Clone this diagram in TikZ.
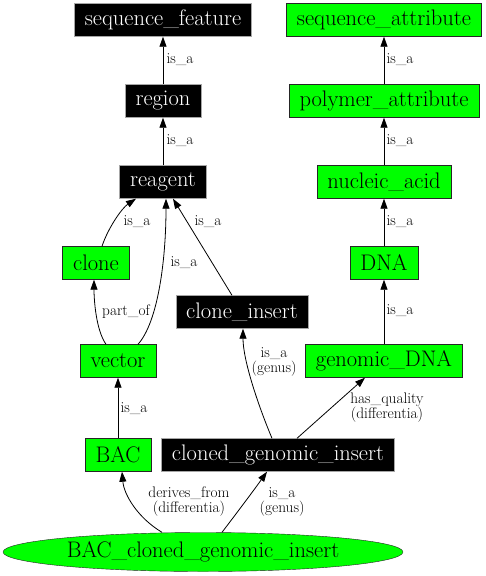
\documentclass[tikz,border=0pt]{standalone}
\usetikzlibrary{arrows.meta,shapes.geometric}
\definecolor{gvgreen}{RGB}{0,255,0}
\begin{document}
\begin{tikzpicture}[x=1pt,y=-1pt,
  term/.style={draw=gray!70,fill=black,text=white,inner xsep=10.5pt,minimum height=33pt,font=\fontsize{22.5}{25}\selectfont},
  attr/.style={draw=black!85,fill=gvgreen,text=black,inner xsep=10.5pt,minimum height=33pt,font=\fontsize{22.5}{25}\selectfont},
  lbl/.style={align=center,inner sep=0pt,font=\fontsize{15.3}{15}\selectfont},
  rel/.style={draw,line width=0.8pt,-{Triangle[length=10pt,width=7pt]}}]
\useasboundingbox (0,0) rectangle (486,576);

\node[term] (sf) at (163,20) {sequence\_feature};
\node[attr] (sa) at (384,20) {sequence\_attribute};
\node[term] (reg) at (163,101) {region};
\node[attr] (pa) at (384,101) {polymer\_attribute};
\node[term] (rea) at (163,182) {reagent};
\node[attr] (na) at (384,182) {nucleic\_acid};
\node[attr] (clo) at (96,263) {clone};
\node[attr] (dna) at (384,263) {DNA};
\node[term] (ci) at (242,312) {clone\_insert};
\node[attr] (vec) at (118,361) {vector};
\node[attr] (gdna) at (384,361) {genomic\_DNA};
\node[attr] (bac) at (118,455) {BAC};
\node[term] (cgi) at (278,455) {cloned\_genomic\_insert};
\node[attr,ellipse,inner sep=0pt,minimum width=400pt,minimum height=39pt] (bcgi) at (203,552) {BAC\_cloned\_genomic\_insert};

\draw[rel] (reg.north) -- (sf.south);
\draw[rel] (rea.north) -- (reg.south);
\draw[rel] (pa.north) -- (sa.south);
\draw[rel] (na.north) -- (pa.south);
\draw[rel] (dna.north) -- (na.south);
\draw[rel] (gdna.north) -- (dna.south);
\draw[rel] ([xshift=6pt]clo.north) .. controls (108,228) and (122,208) .. ([xshift=-27pt]rea.south);
\draw[rel] ([xshift=20pt]vec.north) .. controls (158,322) and (166,260) .. ([xshift=3pt]rea.south);
\draw[rel] ([xshift=-10pt]ci.north) -- ([xshift=10pt]rea.south);
\draw[rel] ([xshift=-12pt]vec.north) .. controls (96,330) and (94,300) .. ([xshift=-2pt]clo.south);
\draw[rel] (bac.north) -- (vec.south);
\draw[rel] ([xshift=-6pt]cgi.north) .. controls (258,405) and (243,360) .. ([xshift=1pt]ci.south);
\draw[rel] ([xshift=19pt]cgi.north) -- ([xshift=-19pt]gdna.south);
\draw[rel] ([xshift=-41pt]bcgi.north) .. controls (138,518) and (124,495) .. ([xshift=4pt]bac.south);
\draw[rel] ([xshift=19pt]bcgi.north) .. controls (236,514) and (254,490) .. ([xshift=-11pt]cgi.south);

\node[lbl] (l1) at (180,60) {is\_a};
\node[lbl] (l2) at (180,141) {is\_a};
\node[lbl] (l3) at (400,60) {is\_a};
\node[lbl] (l4) at (400,141) {is\_a};
\node[lbl] (l5) at (400,222) {is\_a};
\node[lbl] (l6) at (400,311) {is\_a};
\node[lbl] (l7) at (137,222) {is\_a};
\node[lbl] (l8) at (184,263) {is\_a};
\node[lbl] (l9) at (208,222) {is\_a};
\node[lbl] (l10) at (126,312) {part\_of};
\node[lbl] (l11) at (274,362) {is\_a\\(genus)};
\node[lbl] (l12) at (134,409) {is\_a};
\node[lbl] (l13) at (387,408) {has\_quality\\(differentia)};
\node[lbl] (l14) at (189,502) {derives\_from\\(differentia)};
\node[lbl] (l15) at (282,502) {is\_a\\(genus)};
\end{tikzpicture}
\end{document}
